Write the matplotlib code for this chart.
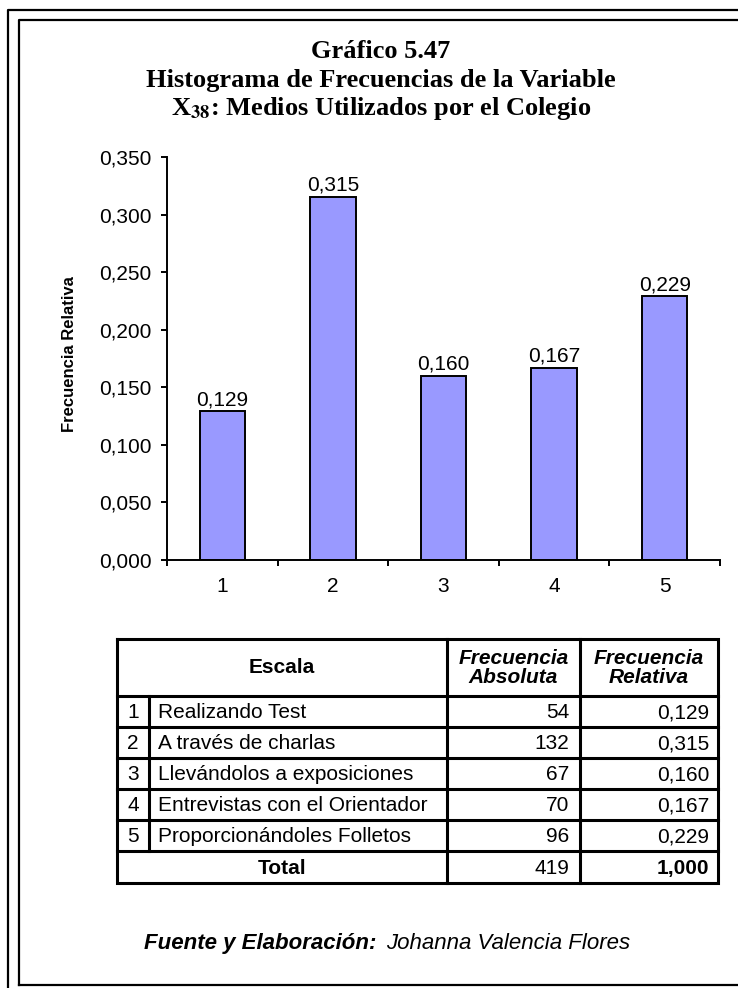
import matplotlib.pyplot as plt
from matplotlib.ticker import FixedLocator, FuncFormatter

# --- data ---
categorias = [1, 2, 3, 4, 5]
escala = ["Realizando Test", "A través de charlas", "Llevándolos a exposiciones",
          "Entrevistas con el Orientador", "Proporcionándoles Folletos"]
frec_abs = [54, 132, 67, 70, 96]
frec_rel = [0.129, 0.315, 0.160, 0.167, 0.229]
yticks = [0.0, 0.05, 0.10, 0.15, 0.20, 0.25, 0.30, 0.35]

SANS = "Liberation Sans"
SERIF = "Liberation Serif"
BAR = "#9999FF"

plt.rcParams["mathtext.fontset"] = "stix"


def coma(v):
    return f"{v:.3f}".replace(".", ",")


W, H = 738, 988
fig = plt.figure(figsize=(W / 100, H / 100), dpi=100)

# overlay in pixel coordinates for frame, title, table, footer
ov = fig.add_axes([0, 0, 1, 1], zorder=0)
ov.set_xlim(0, W)
ov.set_ylim(H, 0)
ov.axis("off")

# double frame
ov.plot([8, 8, 760], [1000, 10, 10], color="black", lw=1.6, clip_on=False)
ov.plot([19, 19, 760], [985, 20, 20], color="black", lw=1.6, clip_on=False)
ov.plot([19, 760], [985, 985], color="black", lw=1.6, clip_on=False)

# title
title = ["Gráfico 5.47", "Histograma de Frecuencias de la Variable",
         r"X$_{\mathbf{38}}$: Medios Utilizados por el Colegio"]
for i, t in enumerate(title):
    ov.text(381, 51 + 29 * i, t, ha="center", va="center", family=SERIF,
            fontweight="bold", fontsize=19)

# --- bar chart ---
x0, x1, y0, y1 = 167, 720, 560, 157
ax = fig.add_axes([x0 / W, 1 - y0 / H, (x1 - x0) / W, (y0 - y1) / H], zorder=2)
ax.patch.set_alpha(0)
ax.bar(categorias, frec_rel, width=0.41, color=BAR, edgecolor="black", linewidth=1.4)
for c, v in zip(categorias, frec_rel):
    ax.text(c, v + 0.002, coma(v), ha="center", va="bottom", family=SANS, fontsize=15)

ax.set_xlim(0.5, 5.5)
ax.set_ylim(0, 0.35)
ax.set_yticks(yticks)
ax.yaxis.set_major_formatter(FuncFormatter(lambda v, p: coma(v)))
ax.set_xticks(categorias)
ax.xaxis.set_minor_locator(FixedLocator([0.5, 1.5, 2.5, 3.5, 4.5, 5.5]))
ax.tick_params(axis="x", which="major", length=0, pad=12)
ax.tick_params(axis="x", which="minor", length=4, width=1.4, direction="out")
ax.tick_params(axis="y", length=4, width=1.4, direction="out", pad=7)
for lab in ax.get_xticklabels() + ax.get_yticklabels():
    lab.set_family(SANS)
    lab.set_fontsize(15)
for s in ["top", "right"]:
    ax.spines[s].set_visible(False)
for s in ["left", "bottom"]:
    ax.spines[s].set_linewidth(1.4)
ax.set_ylabel("Frecuencia Relativa", family=SANS, fontweight="bold", fontsize=12)
ax.yaxis.set_label_coords((77 - x0) / (x1 - x0), 0.51)

# --- table ---
tl, tr = 117, 718
c1, c2, c3 = 149, 447, 580
ty = [639, 696, 727, 758, 789, 820, 851, 883]
lw = 2.2
ov.plot([tl, tr, tr, tl, tl], [ty[0], ty[0], ty[-1], ty[-1], ty[0]], color="black",
        lw=lw, solid_joinstyle="miter")
for y in ty[1:-1]:
    ov.plot([tl, tr], [y, y], color="black", lw=lw)
ov.plot([c1, c1], [ty[1], ty[-2]], color="black", lw=lw)
for c in (c2, c3):
    ov.plot([c, c], [ty[0], ty[-1]], color="black", lw=lw)

fs = 15
hy = (ty[0] + ty[1]) / 2
ov.text((tl + c2) / 2, hy, "Escala", ha="center", va="center", family=SANS,
        fontweight="bold", fontsize=fs)
ov.text((c2 + c3) / 2, hy, "Frecuencia\nAbsoluta", ha="center", va="center",
        family=SANS, fontweight="bold", style="italic", fontsize=fs, linespacing=1.0)
ov.text((c3 + tr) / 2, hy, "Frecuencia\nRelativa", ha="center", va="center",
        family=SANS, fontweight="bold", style="italic", fontsize=fs, linespacing=1.0)

for i in range(len(escala)):
    yc = (ty[i + 1] + ty[i + 2]) / 2 + 1
    ov.text((tl + c1) / 2, yc, str(categorias[i]), ha="center", va="center", family=SANS, fontsize=fs)
    ov.text(c1 + 9, yc, escala[i], ha="left", va="center", family=SANS, fontsize=fs)
    ov.text(c3 - 11, yc, str(frec_abs[i]), ha="right", va="center", family=SANS, fontsize=fs)
    ov.text(tr - 9, yc, coma(frec_rel[i]), ha="right", va="center", family=SANS, fontsize=fs)

yc = (ty[-2] + ty[-1]) / 2 + 1
ov.text((tl + c2) / 2, yc, "Total", ha="center", va="center", family=SANS,
        fontweight="bold", fontsize=fs)
ov.text(c3 - 11, yc, str(sum(frec_abs)), ha="right", va="center", family=SANS, fontsize=fs)
ov.text(tr - 9, yc, coma(sum(frec_rel)), ha="right", va="center", family=SANS,
        fontweight="bold", fontsize=fs)

# footer
ov.text(376, 943, "Fuente y Elaboración:", ha="right", va="center", family=SANS,
        fontweight="bold", style="italic", fontsize=16)
ov.text(386, 943, "Johanna Valencia Flores", ha="left", va="center", family=SANS,
        style="italic", fontsize=16)

fig.savefig("out.png", dpi=100)
